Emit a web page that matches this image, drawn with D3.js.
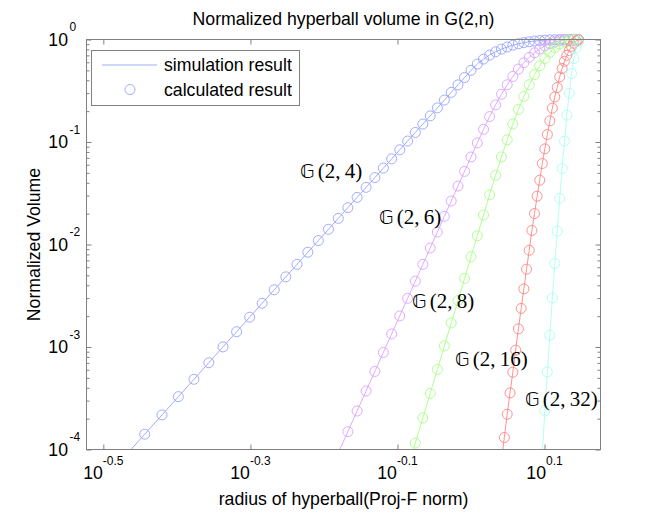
<!DOCTYPE html>
<html>
<head>
<meta charset="utf-8">
<script src="https://cdn.jsdelivr.net/npm/d3@7"></script>
<style>
  body { margin: 0; background: #fff; }
  text { font-family: "Liberation Sans", Arial, sans-serif; fill: #000; }
</style>
</head>
<body>
<svg id="chart" width="665" height="514"></svg>
<script>
// radius grids and normalized volumes
const radiusN4 = [0.34,0.36,0.38,0.40,0.42,0.44,0.46,0.48,0.50,0.52,0.54,0.56,0.58,0.60,0.62,0.64,0.66,0.68,0.70,0.72,0.74,0.76,0.78,0.80,0.82,0.84,0.86,0.88,0.90,0.92,0.94,0.96,0.98,1.00,
  1.02,1.04,1.06,1.08,1.10,1.12,1.14,1.16,1.18,1.20,1.22,1.24,1.26,1.28,1.30,1.32,1.34,1.36,1.38,1.40];
const volumeN4 = [8.93e-5,1.411e-4,2.174e-4,3.277e-4,4.842e-4,7.023e-4,1.002e-3,1.409e-3,1.953e-3,2.673e-3,3.614e-3,4.836e-3,6.403e-3,8.398e-3,1.092e-2,1.407e-2,1.800e-2,2.286e-2,2.882e-2,3.611e-2,4.496e-2,5.564e-2,6.849e-2,8.389e-2,0.1022,0.1239,0.1496,0.1798,0.2152,0.2566,0.3048,0.3606,0.4254,0.5,
  0.5760,0.6443,0.7050,0.7586,0.8052,0.8455,0.8797,0.9083,0.9319,0.9508,0.9657,0.9771,0.9855,0.9915,0.9954,0.9978,0.9991,0.9997,1.0,1.0];

const radiusN6 = [0.66,0.68,0.70,0.72,0.74,0.76,0.78,0.80,0.82,0.84,0.86,0.88,0.90,0.92,0.94,0.96,0.98,1.00,
  1.02,1.04,1.06,1.08,1.10,1.12,1.14,1.16,1.18,1.20,1.22,1.24,1.26,1.28,1.30,1.32,1.34,1.36,1.38,1.40];
const volumeN6 = [9.26e-5,1.493e-4,2.374e-4,3.725e-4,5.774e-4,8.847e-4,1.341e-3,2.011e-3,2.984e-3,4.388e-3,6.395e-3,9.237e-3,1.324e-2,1.882e-2,2.654e-2,3.717e-2,5.169e-2,7.143e-2,
  0.0980,0.1329,0.1770,0.2303,0.2922,0.3615,0.4363,0.5143,0.5931,0.6700,0.7424,0.8079,0.8645,0.9110,0.9467,0.9719,0.9877,0.9960,0.9993,1.0];

const radiusN8 = [0.82,0.84,0.86,0.88,0.90,0.92,0.94,0.96,0.98,1.00,
  1.02,1.04,1.06,1.08,1.10,1.12,1.14,1.16,1.18,1.20,1.22,1.24,1.26,1.28,1.30,1.32,1.34,1.36,1.38,1.40];
const volumeN8 = [6.47e-5,1.154e-4,2.030e-4,3.523e-4,6.041e-4,1.024e-3,1.716e-3,2.843e-3,4.665e-3,7.576e-3,
  0.01219,0.01941,0.03053,0.04723,0.07142,0.1051,0.1501,0.2077,0.2783,0.3612,0.4541,0.5535,0.6541,0.7502,0.8355,0.9046,0.9541,0.9837,0.9968,0.9999];

const radiusN16 = [1.10,1.11,1.12,1.13,1.14,1.15,1.16,1.17,1.18,1.19,1.20,1.21,1.22,1.23,1.24,1.25,1.26,1.27,1.28,1.29,1.30,
  1.31,1.32,1.33,1.34,1.35,1.36,1.37,1.38,1.39,1.40];
const volumeN16 = [7.78e-5,1.309e-4,2.208e-4,3.565e-4,5.675e-4,9.31e-4,1.503e-3,2.377e-3,3.690e-3,5.741e-3,8.79e-3,
  1.371e-2,2.004e-2,2.958e-2,4.236e-2,6.166e-2,8.57e-2,0.1183,0.1607,0.2138,0.2754,
  0.3404,0.4315,0.5212,0.6138,0.6998,0.7798,0.8551,0.9183,0.9660,0.9908];

const radiusN32 = [1.25,1.26,1.27,1.28,1.29,1.30,1.31,1.32,1.33,1.34,1.35,1.36,1.37,1.38,1.39,1.40];
const volumeN32 = [8.91e-5,2.382e-4,5.715e-4,1.303e-3,3.013e-3,6.531e-3,1.349e-2,2.812e-2,5.508e-2,0.1019,0.1824,0.2992,0.4656,0.6531,0.8279,0.9594];

const curveNames = ["2,\u20094", "2,\u20096", "2,\u20098", "2,\u200916", "2,\u200932"];
const xTickExponents = ["-0.5", "-0.3", "-0.1", "0.1"];
const yTickExponents = ["0", "-1", "-2", "-3", "-4"];
const legendLabels = ["simulation result", "calculated result"];

const svg = d3.select("#chart");
const plotL = 86.5, plotR = 600.5, plotT = 39.5, plotB = 449.5;
const axisColor = "#808080";
const fs = "17.7px";

const x = d3.scaleLog().domain([0.3, 1.5]).range([plotL, plotR]);
const y = d3.scaleLog().domain([1e-4, 1]).range([plotB, plotT]);

// series styling (colours and label anchors)
const series = [
  {r: radiusN4,  v: volumeN4,  color: "#97a3ff", lx: 300, ly: 178},
  {r: radiusN6,  v: volumeN6,  color: "#d9a2ff", lx: 379, ly: 224},
  {r: radiusN8,  v: volumeN8,  color: "#a6ff85", lx: 412, ly: 308},
  {r: radiusN16, v: volumeN16, color: "#ff8585", lx: 455, ly: 366},
  {r: radiusN32, v: volumeN32, color: "#a8fff0", lx: 525, ly: 406}
];

svg.append("defs").append("clipPath").attr("id", "plotClip")
  .append("rect").attr("x", plotL).attr("y", plotT).attr("width", plotR - plotL).attr("height", plotB - plotT);

// ticks
const xTicks = xTickExponents.map(e => Math.pow(10, +e));
const yMajor = yTickExponents.map(e => Math.pow(10, +e));
const yMinor = [];
for (let k = -4; k < 0; k++) for (let m = 2; m <= 9; m++) yMinor.push(m * Math.pow(10, k));

function styleAxis(g) {
  g.select(".domain").remove();
  g.selectAll("line").attr("stroke", axisColor).attr("stroke-width", 1);
}
svg.append("g").attr("transform", `translate(0,${plotB})`)
  .call(d3.axisBottom(x).tickValues(xTicks).tickSizeInner(-5).tickSizeOuter(0).tickFormat("")).call(styleAxis);
svg.append("g").attr("transform", `translate(0,${plotT})`)
  .call(d3.axisTop(x).tickValues(xTicks).tickSizeInner(-5).tickSizeOuter(0).tickFormat("")).call(styleAxis);
svg.append("g").attr("transform", `translate(${plotL},0)`)
  .call(d3.axisLeft(y).tickValues(yMajor).tickSizeInner(-5).tickSizeOuter(0).tickFormat("")).call(styleAxis);
svg.append("g").attr("transform", `translate(${plotL},0)`)
  .call(d3.axisLeft(y).tickValues(yMinor).tickSizeInner(-3).tickSizeOuter(0).tickFormat("")).call(styleAxis);
svg.append("g").attr("transform", `translate(${plotR},0)`)
  .call(d3.axisRight(y).tickValues(yMajor).tickSizeInner(-5).tickSizeOuter(0).tickFormat("")).call(styleAxis);
svg.append("g").attr("transform", `translate(${plotR},0)`)
  .call(d3.axisRight(y).tickValues(yMinor).tickSizeInner(-3).tickSizeOuter(0).tickFormat("")).call(styleAxis);

// curves
const line = d3.line().x(d => x(d[0])).y(d => y(d[1]));
series.forEach(s => {
  const pts = s.r.map((r, i) => [r, s.v[i]]);
  svg.append("path").attr("d", line(pts)).attr("clip-path", "url(#plotClip)")
    .attr("fill", "none").attr("stroke", s.color).attr("stroke-width", 0.9);
  svg.append("g").selectAll("circle").data(pts.filter(d => d[1] >= 1e-4)).join("circle")
    .attr("cx", d => x(d[0])).attr("cy", d => y(d[1])).attr("r", 5)
    .attr("fill", "none").attr("stroke", s.color).attr("stroke-width", 0.9);
});

// frame
svg.append("rect").attr("x", plotL).attr("y", plotT).attr("width", plotR - plotL).attr("height", plotB - plotT)
  .attr("fill", "none").attr("stroke", axisColor).attr("stroke-width", 1);

// tick labels
xTicks.forEach((v, i) => {
  const t = svg.append("text").attr("x", x(v)).attr("y", 479).attr("text-anchor", "middle").style("font-size", fs);
  t.append("tspan").text("10");
  t.append("tspan").attr("dy", -14).style("font-size", "12px").text(xTickExponents[i]);
});
yMajor.forEach((v, i) => {
  svg.append("text").attr("x", 68).attr("y", y(v) + 6).attr("text-anchor", "end").style("font-size", fs).text("10");
  svg.append("text").attr("x", 69.5).attr("y", y(v) - 8.5).style("font-size", "12px").text(yTickExponents[i]);
});

// titles
svg.append("text").attr("x", (plotL + plotR) / 2).attr("y", 25).attr("text-anchor", "middle")
  .style("font-size", fs).text("Normalized hyperball volume in G(2,n)");
svg.append("text").attr("x", (plotL + plotR) / 2).attr("y", 505).attr("text-anchor", "middle")
  .style("font-size", fs).text("radius of hyperball(Proj-F norm)");
svg.append("text").attr("transform", `translate(40,${(plotT + plotB) / 2}) rotate(-90)`).attr("text-anchor", "middle")
  .style("font-size", fs).text("Normalized Volume");

// curve labels
series.forEach((s, i) => {
  const t = svg.append("text").attr("x", s.lx).attr("y", s.ly)
    .style("font-family", "'Liberation Serif', serif").style("font-size", "21px");
  t.append("tspan").style("font-family", "'DejaVu Sans', sans-serif").style("font-size", "19px").text("\u{1D53E}");
  t.append("tspan").attr("dx", 3).text("(" + curveNames[i] + ")");
});

// legend
const lg = svg.append("g");
lg.append("rect").attr("x", 91.5).attr("y", 50.5).attr("width", 208).attr("height", 55)
  .attr("fill", "#fff").attr("stroke", axisColor).attr("stroke-width", 1);
lg.append("line").attr("x1", 102).attr("x2", 157).attr("y1", 65).attr("y2", 65)
  .attr("stroke", series[0].color).attr("stroke-width", 0.9);
lg.append("circle").attr("cx", 130).attr("cy", 89.5).attr("r", 5)
  .attr("fill", "none").attr("stroke", series[0].color).attr("stroke-width", 0.9);
legendLabels.forEach((l, i) => {
  lg.append("text").attr("x", 164).attr("y", 71 + i * 24.5).style("font-size", fs).text(l);
});
</script>
</body>
</html>
